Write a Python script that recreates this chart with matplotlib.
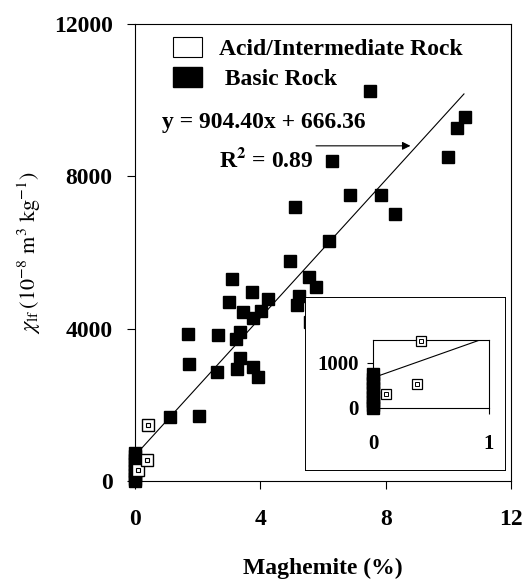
import numpy as np
import matplotlib
matplotlib.use('Agg')
import matplotlib.pyplot as plt
from matplotlib.patches import Patch

plt.rcParams['font.family'] = ['Liberation Serif', 'DejaVu Serif']
plt.rcParams['mathtext.fontset'] = 'stix'

# Basic rock (black squares): maghemite %, chi_lf
basic_x = [0, 0, 0, 0, 0, 0, 0, 0, 0,
           1.12, 2.04,
           1.72, 2.62, 3.26, 3.35, 3.77, 3.93,
           1.70, 2.65, 3.23, 3.35,
           3.10, 3.00, 3.74, 4.25, 3.45, 4.03, 3.77,
           5.18, 5.24, 5.60,
           4.95, 5.56, 5.78, 6.20, 5.11, 6.87, 7.86, 8.31, 6.29, 7.51,
           10.00, 10.29, 10.54]
basic_y = [0, 60, 150, 250, 350, 450, 560, 650, 740,
           1680, 1700,
           3070, 2860, 2940, 3230, 3000, 2730,
           3860, 3830, 3730, 3910,
           5300, 4700, 4960, 4780, 4440, 4460, 4280,
           4620, 4860, 4170,
           5780, 5360, 5090, 6300, 7200, 7510, 7510, 7010, 8400, 10240,
           8510, 9270, 9560]

# Acid / intermediate rock (open squares)
acid_x = [0.11, 0.38, 0.41]
acid_y = [300, 540, 1470]

# linear fit
slope = 904.40
intercept = 666.36
fit_x = np.array([0, 10.5])
fit_y = slope * fit_x + intercept

bold = dict(fontweight='bold', fontsize=17)

fig = plt.figure(figsize=(5.23, 5.8), dpi=100)
ax = fig.add_axes([0.258, 0.1707, 0.719, 0.788])

ax.plot(fit_x, fit_y, color='black', lw=0.8)
ax.plot(basic_x, basic_y, 's', ms=9, color='black', mec='black', clip_on=False, zorder=3)
ax.plot(acid_x, acid_y, 's', ms=8, mfc='white', mec='black', mew=1.0, clip_on=False, zorder=4)
ax.plot(acid_x, acid_y, 's', ms=3.5, mfc='white', mec='black', mew=0.8, clip_on=False, zorder=5)

ax.set_xlim(0, 12)
ax.set_ylim(0, 12000)
ax.set_xticks([0, 4, 8, 12])
ax.set_yticks([0, 4000, 8000, 12000])
ax.tick_params(direction='out', length=6, width=0.8)
ax.tick_params(axis='x', pad=14)
ax.tick_params(axis='y', pad=10)
for lab in ax.get_xticklabels() + ax.get_yticklabels():
    lab.set_fontweight('bold')
    lab.set_fontsize(17)
for s in ax.spines.values():
    s.set_linewidth(0.8)

ax.set_xlabel('Maghemite (%)', labelpad=20, **bold)
ax.set_ylabel(r'$\chi_{\rm lf}\,(10^{-8}\ {\rm m}^3\ {\rm kg}^{-1})$', fontsize=16, labelpad=8)

ax.text(0.86, 9420, 'y = 904.40x + 666.36', va='center', ha='left', **bold)
ax.text(2.68, 8430, r'R$^\mathbf{2}$ = 0.89', va='center', ha='left', **bold)
ax.annotate('', xy=(8.88, 8800), xytext=(5.69, 8800),
            arrowprops=dict(arrowstyle='-|>', lw=0.8, color='black', mutation_scale=12))

handles = [Patch(facecolor='white', edgecolor='black', lw=0.8),
           Patch(facecolor='black', edgecolor='black')]
ax.legend(handles, ['Acid/Intermediate Rock', ' Basic Rock'], loc='upper left',
          bbox_to_anchor=(0.069, 0.997), frameon=False, borderpad=0,
          handlelength=1.23, handleheight=0.9, handletextpad=0.75,
          labelspacing=0.3, prop=dict(weight='bold', size=17))

# inset: outer frame
frame = fig.add_axes([0.5832, 0.1897, 0.3824, 0.2983])
frame.set_xticks([])
frame.set_yticks([])
frame.set_zorder(5)
frame.set_facecolor('white')
for s in frame.spines.values():
    s.set_linewidth(0.7)

# inset: zoom on the low-maghemite samples
ins_xmax, ins_ymax = 1, 1500
bx = [x for x, y in zip(basic_x, basic_y) if x <= ins_xmax and y <= ins_ymax]
by = [y for x, y in zip(basic_x, basic_y) if x <= ins_xmax and y <= ins_ymax]

ins = fig.add_axes([0.7132, 0.2966, 0.2218, 0.1172])
ins.set_zorder(6)
ins.plot(fit_x, fit_y, color='black', lw=0.8)
ins.plot(bx, by, 's', ms=8, color='black', clip_on=False, zorder=3)
ins.plot(acid_x, acid_y, 's', ms=7, mfc='white', mec='black', mew=0.9, clip_on=False, zorder=4)
ins.plot(acid_x, acid_y, 's', ms=3, mfc='white', mec='black', mew=0.7, clip_on=False, zorder=5)
ins.set_xlim(0, ins_xmax)
ins.set_ylim(0, ins_ymax)
ins.set_xticks([0, 1])
ins.set_yticks([0, 1000])
ins.tick_params(direction='out', length=4, width=0.8)
ins.tick_params(axis='x', pad=15)
ins.tick_params(axis='y', pad=6)
for lab in ins.get_xticklabels() + ins.get_yticklabels():
    lab.set_fontweight('bold')
    lab.set_fontsize(15)
for s in ins.spines.values():
    s.set_linewidth(0.8)

fig.savefig('out.png', dpi=100)
